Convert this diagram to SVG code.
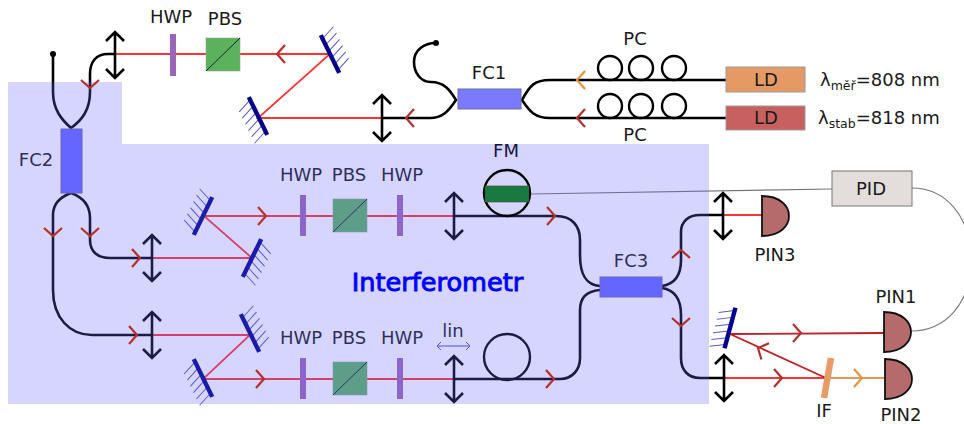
<svg xmlns="http://www.w3.org/2000/svg" width="964" height="424" viewBox="0 0 964 424">
<style>
text{font-family:"DejaVu Sans",sans-serif;font-size:18px;fill:#1a1a1a;text-anchor:middle}
.fiber{fill:none;stroke:#000;stroke-width:2.6}
.beam{fill:none;stroke:#f33;stroke-width:1.8}
.dk{fill:none;stroke:#c01f24;stroke-width:1.8}
.tan{fill:none;stroke:#dc9c58;stroke-width:1.8}
.wire{fill:none;stroke:#777;stroke-width:1.1}
.ch{fill:none;stroke:#b3302c;stroke-width:2.2}
.cho{fill:none;stroke:#e0963f;stroke-width:2.2}
.hwp{fill:#9a66b8}
.pbs{fill:#5cb25c}
.fc{fill:#6666ff;stroke:#6b6ba8;stroke-width:1}
.pin{fill:#b56b6b;stroke:#111;stroke-width:1.8}
.loop{fill:none;stroke:#000;stroke-width:2.4}
</style>
<defs>
<path id="chev" d="M-8,-9 L0,0 L-8,9"/>
<g id="lens" fill="none" stroke="#000" stroke-width="2.6"><path d="M0,-23 V23 M-9,-14 L0,-23 L9,-14 M-9,14 L0,23 L9,14"/></g>
<g id="mirror"><path fill="none" stroke="#5a5ac8" stroke-width="1" d="M0,-17 l15,-6 M0,-10 l15,-6 M0,-3 l15,-6 M0,4 l15,-6 M0,11 l15,-6 M0,18 l15,-6"/><path d="M0,-21 V21" stroke="#00008b" stroke-width="4.4" fill="none"/></g>
<g id="cube"><rect class="pbs" width="34" height="33" stroke="#8fa88f" stroke-width=".6"/><path d="M0,33 L34,0" stroke="#123" stroke-width="1" fill="none"/></g>
<path id="pind" class="pin" d="M0,-20 C18,-20 27,-10 27,0 C27,10 18,20 0,20 Z"/>
</defs>

<g id="connectors">
<path class="beam" d="M115,54 H330 L258,118 H382"/>
<path class="beam" d="M152,258 H252 L204,216 H454"/>
<path class="beam" d="M152,335 H250 L203,379 H454"/>
<path class="beam" d="M722,215 H762"/>
<path class="beam" d="M724,378 H826"/>
<path class="dk" d="M730,334 L884,333 M730,334 L826,378"/>
<path class="tan" d="M826,378 H884"/>
<path class="fiber" d="M53,54 V92 C53,110 62,120 71,128 C82,120 90,110 90,92 V74 C90,62 96,54 108,54 H115"/>
<path class="fiber" d="M152,335 H92 C70,335 53,318 53,290 V215 C53,203 60,197 71,193 C82,197 90,205 90,218 V240 C90,252 98,258 110,258 H152"/>
<path class="fiber" d="M382,118 H430 C442,118 448,112 456,100 C450,90 444,82 431,82 C420,82 414,72 414,62 C414,50 424,43 436,43"/>
<path class="fiber" d="M726,80 H550 C535,80 530,85 522,100 C530,112 535,118 550,118 H726"/>
<path class="fiber" d="M454,216 H556 C572,216 580,226 580,240 V255 C580,275 586,285 600,286"/>
<path class="fiber" d="M454,379 H560 C572,379 580,370 580,358 V310 C580,298 586,291 600,290"/>
<path class="fiber" d="M662,286 C675,284 681,275 681,260 V232 C681,222 688,215 700,215 H722"/>
<path class="fiber" d="M662,288 C675,290 681,300 681,315 V358 C681,370 688,378 700,378 H724"/>
<path class="wire" d="M530,194 L832,189"/>
<path class="wire" d="M912,188 C945,188 970,215 972,260 C970,305 945,331 911,331"/>
<circle cx="53" cy="54" r="3"/>
<circle cx="436" cy="43" r="3"/>
</g>

<g id="top-hwp"><rect class="hwp" x="170" y="34" width="6" height="42"/><text x="171" y="23">HWP</text></g>
<g id="top-pbs"><use href="#cube" x="206" y="38"/><text x="225" y="25">PBS</text></g>
<g id="lens1"><use href="#lens" x="115" y="55"/></g>
<g id="lens2"><use href="#lens" x="382" y="118"/></g>
<g id="lens3"><use href="#lens" x="152" y="258"/></g>
<g id="lens4"><use href="#lens" x="152" y="335"/></g>
<g id="lens5"><use href="#lens" x="454" y="216"/></g>
<g id="lens6"><use href="#lens" x="454" y="379"/></g>
<g id="lens7"><use href="#lens" x="723" y="216"/></g>
<g id="lens8"><use href="#lens" x="724" y="378"/></g>
<g id="m1"><use href="#mirror" transform="translate(330,54) rotate(-26)"/></g>
<g id="m2"><use href="#mirror" transform="translate(258,116) rotate(154)"/></g>
<g id="m3"><use href="#mirror" transform="translate(203,216) rotate(26) scale(-1,1)"/></g>
<g id="m4"><use href="#mirror" transform="translate(252,258) rotate(26) scale(1,-1)"/></g>
<g id="m5"><use href="#mirror" transform="translate(250,333) rotate(-26)"/></g>
<g id="m6"><use href="#mirror" transform="translate(203,378) rotate(154)"/></g>
<g id="m7"><use href="#mirror" transform="translate(730,328) rotate(15) scale(-1,-1)"/></g>
<g id="fc2"><rect class="fc" x="61" y="129" width="21" height="64"/><text x="36" y="166">FC2</text></g>
<g id="fc3"><rect class="fc" x="600" y="277" width="62" height="20"/><text x="631" y="267">FC3</text></g>
<g id="hwp-a"><rect class="hwp" x="300" y="195" width="6" height="41"/><text x="301" y="181">HWP</text></g>
<g id="pbs-a"><use href="#cube" x="333" y="199"/><text x="349" y="181">PBS</text></g>
<g id="hwp-b"><rect class="hwp" x="397" y="195" width="6" height="41"/><text x="402" y="181">HWP</text></g>
<g id="hwp-c"><rect class="hwp" x="300" y="358" width="6" height="41"/><text x="301" y="344">HWP</text></g>
<g id="pbs-b"><use href="#cube" x="333" y="362"/><text x="349" y="344">PBS</text></g>
<g id="hwp-d"><rect class="hwp" x="397" y="358" width="6" height="41"/><text x="402" y="344">HWP</text></g>
<g id="lin"><text x="453" y="337">lin</text><path d="M437,346 H470 M441,342 L437,346 L441,350 M466,342 L470,346 L466,350" fill="none" stroke="#4a4ad0" stroke-width="1"/></g>
<g id="loop"><circle class="loop" cx="507" cy="357" r="23"/></g>

<path id="region" d="M8,82 H122 V144 H709 V404 H8 Z" fill="#6464ff" fill-opacity=".27"/>

<g id="arrowheads">
<g class="ch">
<use href="#chev" transform="translate(277,54) rotate(180)"/>
<use href="#chev" transform="translate(90,88) rotate(90)"/>
<use href="#chev" transform="translate(53,236) rotate(90)"/>
<use href="#chev" transform="translate(90,236) rotate(90)"/>
<use href="#chev" transform="translate(140,258)"/>
<use href="#chev" transform="translate(137,335)"/>
<use href="#chev" transform="translate(266,216)"/>
<use href="#chev" transform="translate(264,379)"/>
<use href="#chev" transform="translate(555,216)"/>
<use href="#chev" transform="translate(554,379)"/>
<use href="#chev" transform="translate(681,250) rotate(-90)"/>
<use href="#chev" transform="translate(681,326) rotate(90)"/>
<use href="#chev" transform="translate(801,333)"/>
<use href="#chev" transform="translate(758,348) rotate(205)"/>
<use href="#chev" transform="translate(782,378)"/>
<use href="#chev" transform="translate(577,118) rotate(180)"/>
<use href="#chev" transform="translate(406,118) rotate(180)"/>
</g>
<g class="cho">
<use href="#chev" transform="translate(577,80) rotate(180)"/>
<use href="#chev" transform="translate(862,378)"/>
</g>
</g>

<g id="fm"><circle class="loop" cx="507" cy="193" r="23" stroke="#0a0a30"/><rect x="485" y="186" width="44" height="16" fill="#187a3f" stroke="#444" stroke-width=".6"/><text x="506" y="157" style="fill:#14143c">FM</text></g>
<text id="interferometr" x="437.5" y="291" style="font-size:25.6px;fill:#0000ff;stroke:#0000ff;stroke-width:.9">Interferometr</text>
<g id="fc1"><rect class="fc" style="fill:#7a7aff" x="458" y="89" width="63" height="20"/><text x="489" y="79">FC1</text></g>
<g id="pc1"><circle class="loop" cx="610" cy="68" r="12"/><circle class="loop" cx="641" cy="68" r="12"/><circle class="loop" cx="674" cy="68" r="12"/><text x="635" y="45">PC</text></g>
<g id="pc2"><circle class="loop" cx="610" cy="106" r="12"/><circle class="loop" cx="641" cy="106" r="12"/><circle class="loop" cx="674" cy="106" r="12"/><text x="635" y="141">PC</text></g>
<g id="ld1"><rect x="726" y="67" width="79" height="25" fill="#e59a66" stroke="#999" stroke-width="1"/><text x="766" y="86">LD</text></g>
<g id="ld2"><rect x="726" y="106" width="79" height="24" fill="#c96060" stroke="#999" stroke-width="1"/><text x="766" y="124">LD</text></g>
<text id="lm" x="820" y="86" style="text-anchor:start">λ<tspan dy="4" font-size="12.5">měř</tspan><tspan dy="-4">=808 nm</tspan></text>
<text id="ls" x="818" y="124" style="text-anchor:start">λ<tspan dy="4" font-size="12.5">stab</tspan><tspan dy="-4">=818 nm</tspan></text>
<g id="pid"><rect x="832" y="171" width="80" height="35" fill="#e3dedb" stroke="#777" stroke-width="1"/><text x="871" y="195">PID</text></g>
<g id="pin3"><use href="#pind" x="762" y="216"/><text x="775" y="261">PIN3</text></g>
<g id="pin1"><use href="#pind" x="884" y="332"/><text x="896" y="303">PIN1</text></g>
<g id="pin2"><use href="#pind" x="885" y="379"/><text x="901" y="421">PIN2</text></g>
<g id="if"><path d="M831,358 L824,398" stroke="#e89a68" stroke-width="6.5" fill="none"/><text x="824" y="417">IF</text></g>
</svg>
